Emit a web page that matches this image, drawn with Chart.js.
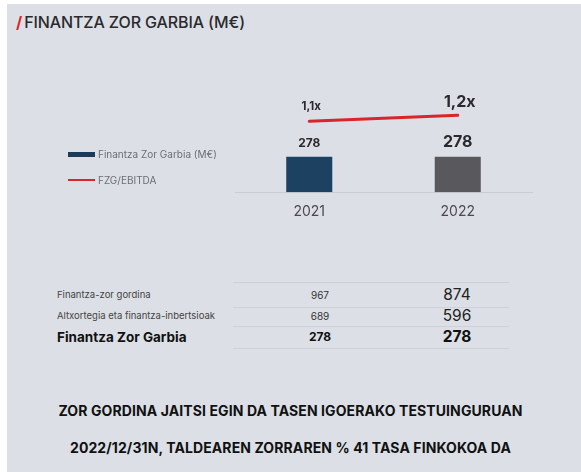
<!DOCTYPE html>
<html>
<head>
<meta charset="utf-8">
<script src="https://cdn.jsdelivr.net/npm/chart.js@4/dist/chart.umd.min.js"></script>
<style>
  html, body { margin:0; padding:0; }
  body { width:581px; height:472px; background:#fff; position:relative; overflow:hidden; font-family:"Inter","Open Sans",sans-serif; }
  #panel { position:absolute; left:7px; top:4px; right:0; bottom:0; background:#dce0e6; }
  #title { position:absolute; left:16px; top:12px; font-size:16px; color:#2a2a2e; font-weight:500; letter-spacing:-0.1px; }
  #title .slash { color:#d8262b; font-weight:700; margin-right:2px; }
  #chartWrap { position:absolute; left:0; top:0; width:581px; height:240px; }
  #legend { position:absolute; left:68px; top:141px; font-size:10px; color:#6b6e74; }
  .li { position:relative; height:26px; display:flex; align-items:center; }
  .sw { display:inline-block; width:27px; margin-right:3px; }
  .row { position:absolute; color:#333; white-space:nowrap; }
  .hl { position:absolute; left:233px; width:276px; height:1px; background:#cdd1d8; }
  .foot { position:absolute; left:0; width:581px; text-align:center; font-weight:700; font-size:14px; color:#111; letter-spacing:0.1px; }
</style>
</head>
<body>
<div id="panel"></div>
<div id="title"><span class="slash">/</span>FINANTZA ZOR GARBIA (M€)</div>
<div id="chartWrap"><canvas id="c" width="581" height="240"></canvas></div>
<div id="legend"></div>
<div id="table"></div>
<div class="foot" style="top:402px;">ZOR GORDINA JAITSI EGIN DA TASEN IGOERAKO TESTUINGURUAN</div>
<div class="foot" style="top:439px;">2022/12/31N, TALDEAREN ZORRAREN % 41 TASA FINKOKOA DA</div>
<script>
// ---- data ----
const years = ["2021", "2022"];
const netDebt = [278, 278];
const netDebtLabels = ["278", "278"];
const ratio = [1.1, 1.2];
const ratioLabels = ["1,1x", "1,2x"];
const seriesNames = ["Finantza Zor Garbia (M€)", "FZG/EBITDA"];
const tableRows = ["Finantza-zor gordina", "Altxortegia eta finantza-inbertsioak", "Finantza Zor Garbia"];
const table2021 = ["967", "689", "278"];
const table2022 = ["874", "596", "278"];

// ---- styles ----
const barColors = ["#1d4161", "#58585d"];
const lineColor = "#d8262b";
const barLabelFont = [12, 16];
const lineLabelFont = [11.5, 16];

const labelPlugin = {
  id: "valueLabels",
  afterDatasetsDraw(chart) {
    const ctx = chart.ctx;
    ctx.save();
    ctx.textAlign = "center";
    ctx.textBaseline = "middle";
    ctx.fillStyle = "#2a2a2e";
    const m0 = chart.getDatasetMeta(0);
    m0.data.forEach((el, i) => {
      ctx.font = "700 " + barLabelFont[i] + "px Inter, 'Open Sans', sans-serif";
      ctx.fillText(netDebtLabels[i], el.x, el.y - 13 - (i ? 2 : 0));
    });
    const m1 = chart.getDatasetMeta(1);
    m1.data.forEach((el, i) => {
      ctx.font = "700 " + lineLabelFont[i] + "px Inter, 'Open Sans', sans-serif";
      ctx.fillText(ratioLabels[i], el.x + 2, el.y - 15 - (i ? -2 : 0));
    });
    ctx.restore();
  }
};

new Chart(document.getElementById("c"), {
  type: "bar",
  data: {
    labels: years,
    datasets: [
      { type: "bar", label: seriesNames[0], data: netDebt, backgroundColor: barColors,
        barPercentage: 0.31, categoryPercentage: 1, yAxisID: "y", order: 2 },
      { type: "line", label: seriesNames[1], data: ratio, borderColor: lineColor, borderWidth: 3,
        pointRadius: 0, yAxisID: "y2", order: 1, borderCapStyle: "round" }
    ]
  },
  options: {
    responsive: false,
    animation: false,
    layout: { padding: { left: 235, right: 49, top: 95, bottom: 17 } },
    plugins: { legend: { display: false }, tooltip: { enabled: false } },
    scales: {
      x: {
        grid: { display: false },
        border: { display: true, color: "#c8ccd3", width: 1 },
        ticks: { color: "#4a4a50", font: { size: 14, family: "Inter, 'Open Sans', sans-serif" }, padding: 3 }
      },
      y: { display: false, min: 0, max: 762 },
      y2: { display: false, min: -0.0667, max: 1.5333 }
    }
  },
  plugins: [labelPlugin]
});

// legend
const lg = document.getElementById("legend");
lg.innerHTML =
  '<div class="li"><span class="sw" style="height:5px;background:#1d3a56"></span>' + seriesNames[0] + '</div>' +
  '<div class="li"><span class="sw" style="height:2.5px;background:' + lineColor + '"></span>' + seriesNames[1] + '</div>';

// table
const tb = document.getElementById("table");
const rowY = [295, 316, 337];
const lineY = [282, 307, 326, 348];
let html = "";
lineY.forEach(y => { html += '<div class="hl" style="top:' + y + 'px"></div>'; });
tableRows.forEach((t, i) => {
  const bold = i === 2;
  const lf = bold ? "font-weight:700;font-size:13.5px;color:#111;" : "font-size:9.5px;color:#444;";
  html += '<div class="row" style="left:57px;top:' + (rowY[i] - 8) + 'px;height:16px;line-height:16px;' + lf + '">' + t + '</div>';
  const f1 = bold ? "font-weight:700;font-size:12px;color:#111;" : "font-size:10px;color:#333;";
  html += '<div class="row" style="left:280px;width:80px;text-align:center;top:' + (rowY[i] - 8) + 'px;height:16px;line-height:16px;' + f1 + '">' + table2021[i] + '</div>';
  const f2 = bold ? "font-weight:700;font-size:15.5px;color:#111;" : "font-size:15.5px;color:#222;";
  html += '<div class="row" style="left:417px;width:80px;text-align:center;top:' + (rowY[i] - 10) + 'px;height:20px;line-height:20px;' + f2 + '">' + table2022[i] + '</div>';
});
tb.innerHTML = html;
</script>
</body>
</html>
